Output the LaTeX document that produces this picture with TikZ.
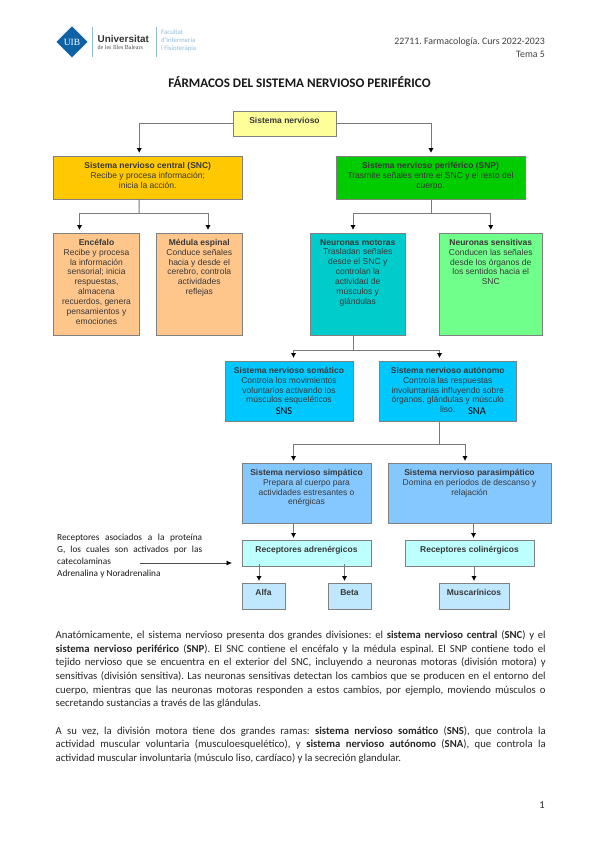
\documentclass[tikz,border=0pt]{standalone}
\usepackage{fontspec}
\setmainfont{Carlito}
\newfontfamily\arialf{Liberation Sans}
\newfontfamily\timesf{Liberation Serif}
\usetikzlibrary{arrows.meta}
\frenchspacing
\definecolor{cyel}{HTML}{FFFF99}
\definecolor{corg}{HTML}{FFC800}
\definecolor{cgrn}{HTML}{00CC00}
\definecolor{cpch}{HTML}{FFC68C}
\definecolor{cteal}{HTML}{00CCCC}
\definecolor{clgr}{HTML}{6FFF8A}
\definecolor{csky}{HTML}{00C8FF}
\definecolor{cblu}{HTML}{85C8FF}
\definecolor{ccya}{HTML}{BDFFFF}
\definecolor{cpal}{HTML}{BFE8FF}
\definecolor{uibb}{HTML}{0F62A6}
\definecolor{uibl}{HTML}{8FBEDC}
\tikzset{
  boxst/.style={draw=black!50,line width=0.85pt,inner sep=0pt,outer sep=0pt},
  boxtxt/.style={anchor=north,inner sep=0pt,align=center,text=black!78,font=\arialf\fontsize{8.5}{9.85}\selectfont},
  wire/.style={draw=black!52,line width=1pt},
  arr/.style={wire,-{Latex[length=5pt,width=5.4pt,black]}},
  pagetxt/.style={inner sep=0pt,text=black!85,font=\fontsize{10.7}{13.65}\selectfont},
}
\newcommand{\bx}[8][6]{%
  \pgfmathsetmacro{\bw}{#4-#2}\pgfmathsetmacro{\bh}{#5-#3}%
  \pgfmathsetmacro{\cxx}{(#2+#4)/2}\pgfmathsetmacro{\cyy}{(#3+#5)/2}%
  \node[boxst,fill=#6,minimum width=\bw pt,minimum height=\bh pt] (#7) at (\cxx,\cyy) {};%
  \node[boxtxt] (#7-t) at ([yshift=-#1pt]#7.north) {#8};%
}
\newcommand{\jl}[1]{\makebox[490pt][s]{#1}}
\newcommand{\jm}[1]{\makebox[145pt][s]{#1}}
\begin{document}
\begin{tikzpicture}[x=1pt,y=-1pt]
\useasboundingbox (0,0) rectangle (599,848);
\fill[white] (0,0) rectangle (599,848);
% logo
\fill[uibb] (72,26.5) -- (87.5,42) -- (72,57.5) -- (56.5,42) -- cycle;
\node[inner sep=0pt,text=white,font=\timesf\fontsize{9.5}{10}\selectfont] (uib) at (72,42) {UIB};
\draw[uibl,line width=0.5pt] (92,27) -- (92,57);
\draw[uibl,line width=0.5pt] (156,27) -- (156,57);
\node[anchor=west,inner sep=0pt,text=black!80,font=\arialf\bfseries\fontsize{9.9}{10}\selectfont] (uni) at (97.5,39) {Universitat};
\node[anchor=west,inner sep=0pt,text=black!70,font=\timesf\fontsize{6}{6}\selectfont] (ilb) at (97.5,47) {de les Illes Balears};
\node[anchor=north west,inner sep=0pt,align=left,text=uibl,font=\fontsize{6.8}{7.6}\selectfont] (fac) at (161,30) {Facultat\\d'Infermeria\\i Fisioteràpia};
% header
\node[anchor=east,inner sep=0pt,text=black!75,font=\fontsize{9.85}{12}\selectfont] (h1) at (545,42) {22711. Farmacología. Curs 2022-2023};
\node[anchor=east,inner sep=0pt,text=black!75,font=\fontsize{9.85}{12}\selectfont] (h2) at (545,54) {Tema 5};
\node[inner sep=0pt,text=black!90,font=\bfseries\fontsize{13.1}{14}\selectfont] (title) at (299.5,82) {FÁRMACOS DEL SISTEMA NERVIOSO PERIFÉRICO};
% boxes
\bx{233}{111}{336}{136}{cyel}{sn}{\textbf{Sistema nervioso}}
\bx{53.5}{156}{242}{199}{corg}{snc}{\textbf{Sistema nervioso central (SNC)}\\Recibe y procesa información;\\inicia la acción.}
\bx{336}{156}{525}{199}{cgrn}{snp}{\textbf{Sistema nervioso periférico (SNP)}\\Trasmite señales entre el SNC y el resto del\\cuerpo.}
\bx{53.5}{233}{139.5}{335}{cpch}{enc}{\textbf{Encéfalo}\\Recibe y procesa\\la información\\sensorial; inicia\\respuestas,\\almacena\\recuerdos, genera\\pensamientos y\\emociones}
\bx{156.5}{233}{242}{335}{cpch}{med}{\textbf{Médula espinal}\\Conduce señales\\hacia y desde el\\cerebro, controla\\actividades\\reflejas}
\bx{310.5}{233}{405}{335}{cteal}{mot}{\textbf{Neuronas motoras}\\Trasladan señales\\desde el SNC y\\controlan la\\actividad de\\músculos y\\glándulas}
\bx{439.5}{233}{542}{335}{clgr}{sen}{\textbf{Neuronas sensitivas}\\Conducen las señales\\desde los órganos de\\los sentidos hacia el\\SNC}
\bx{225}{361}{353}{421}{csky}{som}{\textbf{Sistema nervioso somático}\\Controla los movimientos\\voluntarios activando los\\músculos esqueléticos}
\bx{379}{361}{516.5}{421}{csky}{aut}{\textbf{Sistema nervioso autónomo}\\Controla las respuestas\\involuntarias influyendo sobre\\órganos, glándulas y músculo\\liso.}
\bx{242}{463}{371}{523}{cblu}{sim}{\textbf{Sistema nervioso simpático}\\Prepara al cuerpo para\\actividades estresantes o\\enérgicas}
\bx{388}{463}{551}{523}{cblu}{par}{\textbf{Sistema nervioso parasimpático}\\Domina en períodos de descanso y\\relajación}
\bx[6.5]{242}{540}{371}{566}{ccya}{adr}{\textbf{Receptores adrenérgicos}}
\bx[6.5]{405}{540}{534}{566}{ccya}{col}{\textbf{Receptores colinérgicos}}
\bx{242}{583}{285}{609}{cpal}{alf}{\textbf{Alfa}}
\bx{328}{583}{371}{609}{cpal}{bet}{\textbf{Beta}}
\bx{439}{583}{509}{609}{cpal}{mus}{\textbf{Muscarínicos}}
\node[inner sep=0pt,text=black,font=\fontsize{10.5}{12}\selectfont] (sns) at (284,411) {SNS};
\node[inner sep=0pt,text=black,font=\fontsize{10.5}{12}\selectfont] (sna) at (477,411) {SNA};
% junction coordinates
\coordinate (j1) at (139,213);
\coordinate (j2) at (431,213);
\coordinate (j3) at (353,350);
\coordinate (j4) at (439.5,444);
% connectors
\draw[arr] (sn.west) -| ([xshift=-8.5pt,yshift=3pt]snc.north);
\draw[arr] (sn.east) -| ([xshift=0.5pt,yshift=3pt]snp.north);
\draw[wire] ([xshift=-8.5pt]snc.south) -- (j1);
\draw[arr] (j1) -| ([xshift=-17pt,yshift=3pt]enc.north);
\draw[arr] (j1) -| ([xshift=8.75pt,yshift=3pt]med.north);
\draw[wire] ([xshift=0.5pt]snp.south) -- (j2);
\draw[arr] (j2) -| ([xshift=-4.75pt,yshift=3pt]mot.north);
\draw[arr] (j2) -| ([yshift=3pt]sen.north);
\draw[wire] ([xshift=-4.75pt]mot.south) -- (j3);
\draw[arr] (j3) -| ([xshift=4.5pt,yshift=3pt]som.north);
\draw[arr] (j3) -| ([xshift=-8.25pt,yshift=3pt]aut.north);
\draw[wire] ([xshift=-8.25pt]aut.south) -- (j4);
\draw[arr] (j4) -| ([xshift=-13pt,yshift=2pt]sim.north);
\draw[arr] (j4) -| ([xshift=-4.5pt,yshift=2pt]par.north);
\draw[arr] ([xshift=-13pt]sim.south) -- ([xshift=-13pt,yshift=2pt]adr.north);
\draw[arr] ([xshift=4pt]par.south) -- ([xshift=4pt,yshift=2pt]col.north);
\draw[arr] ([xshift=-4.5pt,yshift=2pt]alf.north |- adr.south) -- ([xshift=-4.5pt,yshift=2pt]alf.north);
\draw[arr] ([xshift=-5pt,yshift=2pt]bet.north |- adr.south) -- ([xshift=-5pt,yshift=2pt]bet.north);
\draw[arr] (mus.north |- col.south) -- ([yshift=2pt]mus.north);
% side note
\coordinate (free) at (140,563);
\node[anchor=north west,inner sep=0pt,align=left,text=black!90,font=\fontsize{9.3}{12}\selectfont] (note) at (57,533.5) {\jm{Receptores asociados a la proteína}\\\jm{G, los cuales son activados por las}\\catecolaminas\\Adrenalina y Noradrenalina};
\draw[wire,line width=0.7pt,draw=black!70,-{Latex[length=5.5pt,width=5pt,black]}] (free) -- ([xshift=-10pt]adr.west |- free);
% body text
\node[pagetxt,anchor=north west,align=left] (p1) at (55.5,630.5) {\jl{Anatómicamente, el sistema nervioso presenta dos grandes divisiones: el \textbf{sistema nervioso central} (\textbf{SNC}) y el}\\
\jl{\textbf{sistema nervioso periférico} (\textbf{SNP}). El SNC contiene el encéfalo y la médula espinal. El SNP contiene todo el}\\
\jl{tejido nervioso que se encuentra en el exterior del SNC, incluyendo a neuronas motoras (división motora) y}\\
\jl{sensitivas (división sensitiva). Las neuronas sensitivas detectan los cambios que se producen en el entorno del}\\
\jl{cuerpo, mientras que las neuronas motoras responden a estos cambios, por ejemplo, moviendo músculos o}\\
secretando sustancias a través de las glándulas.};
\node[pagetxt,anchor=north west,align=left] (p2) at (55.5,726) {\jl{A su vez, la división motora tiene dos grandes ramas: \textbf{sistema nervioso somático} (\textbf{SNS}), que controla la}\\
\jl{actividad muscular voluntaria (musculoesquelético), y \textbf{sistema nervioso autónomo} (\textbf{SNA}), que controla la}\\
actividad muscular involuntaria (músculo liso, cardíaco) y la secreción glandular.};
\node[anchor=east,inner sep=0pt,text=black!85,font=\fontsize{10.5}{12}\selectfont] (pn) at (545,805) {1};
\end{tikzpicture}
\end{document}
